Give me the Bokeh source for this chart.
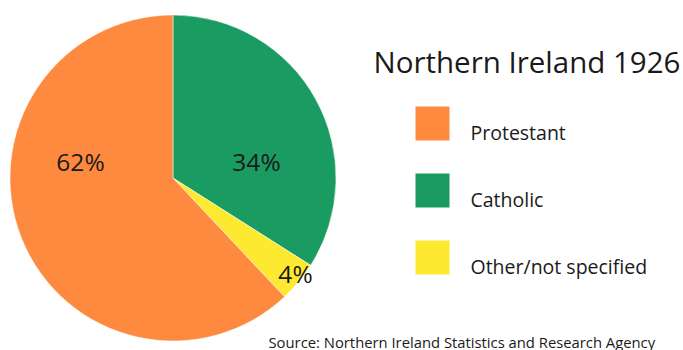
import math
from bokeh.plotting import figure
from bokeh.models import ColumnDataSource
from bokeh.core.properties import value
from bokeh.embed import file_html
from bokeh.resources import INLINE

# ---- data ----
title = "Northern Ireland 1926"
categories = ["Catholic", "Other/not specified", "Protestant"]   # clockwise from 12 o'clock
shares = [34, 4, 62]
colors = ["#1a9b62", "#fde92f", "#fd8a3e"]
legend_order = ["Protestant", "Catholic", "Other/not specified"]
source_note = "Source: Northern Ireland Statistics and Research Agency"

W, H = 683, 350
OFF = 0
FONT = "Open Sans"

p = figure(width=W, height=H, x_range=(0, W), y_range=(0, H),
           output_backend="svg", toolbar_location=None, min_border=0)
p.axis.visible = False
p.grid.visible = False
p.outline_line_color = None
p.background_fill_color = "white"

# window pixel -> data coords
def X(wx):
    return wx - OFF
def Y(wy):
    return H + OFF - wy

# ---- pie ----
total = sum(shares)
starts, ends = [], []
acc = 0.0
for v in shares:
    a0 = math.pi / 2 - 2 * math.pi * acc / total
    acc += v
    a1 = math.pi / 2 - 2 * math.pi * acc / total
    starts.append(a0)
    ends.append(a1)

cx, cy, r = X(172.5), Y(177.5), 163
src = ColumnDataSource(dict(start=starts, end=ends, color=colors, cat=categories))
p.wedge(x=cx, y=cy, radius=r, start_angle="start", end_angle="end",
        direction="clock", fill_color="color", line_color="white", line_width=0.5, source=src)

# percentage labels (placement per slice)
label_pos = {"Catholic": (256, 161), "Other/not specified": (295, 273), "Protestant": (80, 161)}
lx = [X(label_pos[c][0]) for c in categories]
ly = [Y(label_pos[c][1]) for c in categories]
lt = [f"{v}%" for v in shares]
p.text(x=lx, y=ly, text=lt, text_font=value(FONT), text_font_size="24.5px",
       text_color="#1a1a1a", text_align="center", text_baseline="middle")

# ---- title ----
p.text(x=[X(373)], y=[Y(61)], text=[title], text_font=value(FONT),
       text_font_size="29.5px", text_color="#1a1a1a", text_align="left",
       text_baseline="middle")

# ---- legend ----
cmap = dict(zip(categories, colors))
sq_x, sq_top, sq_size, step = 415, 106, 34, 67
rx, ry, rc, tx, ty, tt = [], [], [], [], [], []
for i, c in enumerate(legend_order):
    top = sq_top + i * step
    rx.append(X(sq_x + sq_size / 2))
    ry.append(Y(top + sq_size / 2))
    rc.append(cmap[c])
    tx.append(X(470))
    ty.append(Y(top + sq_size - 8))
    tt.append(c)
p.rect(x=rx, y=ry, width=sq_size, height=sq_size, fill_color=rc, line_color=None)
p.text(x=tx, y=ty, text=tt, text_font=value(FONT), text_font_size="19.5px",
       text_color="#1a1a1a", text_align="left", text_baseline="middle")

# ---- source note ----
p.text(x=[X(268)], y=[Y(341)], text=[source_note], text_font=value(FONT),
       text_font_size="14.8px", text_color="#1a1a1a", text_align="left",
       text_baseline="middle")

open("out.html", "w").write(file_html(p, INLINE))
